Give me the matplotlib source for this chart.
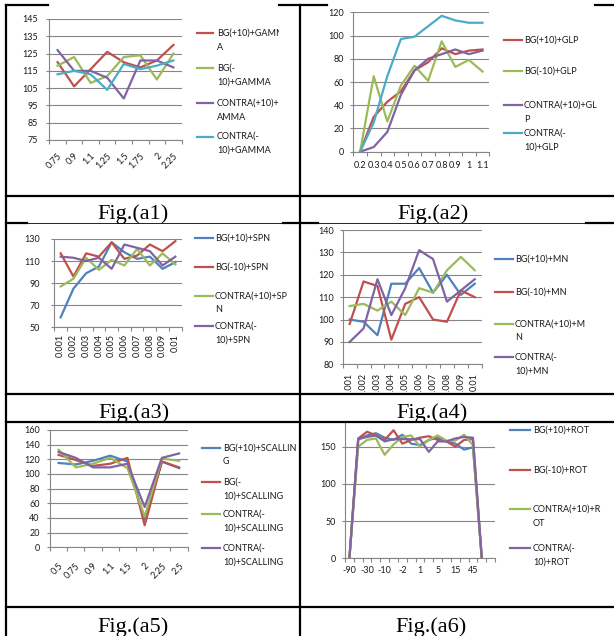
import numpy as np
import matplotlib
matplotlib.use("Agg")
import matplotlib.pyplot as plt
from matplotlib.patches import Rectangle
from matplotlib.transforms import Bbox, TransformedBbox

plt.rcParams['font.family'] = ['Lato', 'DejaVu Sans']

# 圖表配色 (Excel 預設)
BLUE, RED, GREEN, PURPLE, CYAN = '#4F81BD', '#C0504D', '#9BBB59', '#8064A2', '#4BACC6'
GRID = '#868686'
TXT = '#1a1a1a'

# ---- (a1) GAMMA ----
gamma_x = ['0.75', '0.9', '1.1', '1.25', '1.5', '1.75', '2', '2.25']
gamma_bg_p10 = [120, 106, 116, 126, 120, 117, 121, 130]
gamma_bg_m10 = [118, 123, 108, 112, 123, 124, 110, 125]
gamma_contra_p10 = [127, 115, 115, 111, 99, 121, 121, 117]
gamma_contra_m10 = [113, 115, 113, 104, 119, 116, 118, 121]
gamma_names = ['BG(+10)+GAMM\nA', 'BG(-\n10)+GAMMA', 'CONTRA(+10)+G\nAMMA', 'CONTRA(-\n10)+GAMMA']

# ---- (a2) GLP ----
glp_x = ['0.2', '0.3', '0.4', '0.5', '0.6', '0.7', '0.8', '0.9', '1', '1.1']
glp_bg_p10 = [0, 30, 43, 52, 70, 77, 89, 84, 87, 88]
glp_bg_m10 = [0, 65, 26, 57, 74, 61, 95, 73, 79, 69]
glp_contra_p10 = [0, 4, 17, 49, 70, 80, 84, 88, 84, 87]
glp_contra_m10 = [0, 25, 65, 97, 99, 108, 117, 113, 111, 111]
glp_names = ['BG(+10)+GLP', 'BG(-10)+GLP', 'CONTRA(+10)+GL\nP', 'CONTRA(-\n10)+GLP']

# ---- (a3) SPN ----
spn_x = ['0.001', '0.002', '0.003', '0.004', '0.005', '0.006', '0.007', '0.008', '0.009', '0.01']
spn_bg_p10 = [59, 85, 99, 105, 127, 118, 112, 114, 103, 109]
spn_bg_m10 = [117, 96, 117, 114, 127, 112, 115, 125, 119, 128]
spn_contra_p10 = [87, 94, 113, 102, 111, 106, 121, 106, 117, 107]
spn_contra_m10 = [114, 113, 110, 113, 103, 125, 122, 119, 106, 114]
spn_names = ['BG(+10)+SPN', 'BG(-10)+SPN', 'CONTRA(+10)+SP\nN', 'CONTRA(-\n10)+SPN']

# ---- (a4) MN ----
mn_x = ['0.001', '0.002', '0.003', '0.004', '0.005', '0.006', '0.007', '0.008', '0.009', '0.01']
mn_bg_p10 = [100, 99, 93, 116, 116, 123, 112, 120, 111, 116]
mn_bg_m10 = [98, 117, 115, 91, 107, 110, 100, 99, 113, 110]
mn_contra_p10 = [106, 107, 104, 108, 102, 114, 112, 122, 128, 122]
mn_contra_m10 = [90, 96, 118, 102, 114, 131, 127, 108, 113, 118]
mn_names = ['BG(+10)+MN', 'BG(-10)+MN', 'CONTRA(+10)+M\nN', 'CONTRA(-\n10)+MN']

# ---- (a5) SCALLING ----
sc_x = ['0.5', '0.75', '0.9', '1.1', '1.5', '2', '2.25', '2.5']
sc_bg_p10 = [115, 113, 118, 125, 117, 38, 117, 108]
sc_bg_m10 = [126, 119, 111, 114, 122, 30, 117, 109]
sc_contra_a = [133, 109, 114, 122, 108, 42, 121, 118]
sc_contra_b = [130, 122, 109, 109, 114, 55, 122, 128]
sc_names = ['BG(+10)+SCALLIN\nG', 'BG(-\n10)+SCALLING', 'CONTRA(-\n10)+SCALLING', 'CONTRA(-\n10)+SCALLING']

# ---- (a6) ROT ----
rot_x = ['-90', '-45', '-30', '-15', '-10', '-5', '-2', '-1', '1', '2', '5', '10',
         '15', '30', '45', '90', '']
rot_bg_p10 = [0, 160, 165, 168, 162, 159, 166, 154, 152, 159, 162, 157, 154, 146, 149, 0]
rot_bg_m10 = [0, 161, 170, 165, 159, 172, 154, 159, 162, 164, 159, 157, 150, 159, 160, 0]
rot_contra_p10 = [0, 150, 159, 161, 139, 153, 163, 165, 150, 159, 165, 158, 158, 166, 152, 0]
rot_contra_m10 = [0, 160, 163, 165, 157, 160, 160, 160, 160, 143, 157, 157, 161, 163, 162, 0]
rot_names = ['BG(+10)+ROT', 'BG(-10)+ROT', 'CONTRA(+10)+R\nOT', 'CONTRA(-\n10)+ROT']

W, H = 614, 636
fig = plt.figure(figsize=(W / 100, H / 100), dpi=100)


def box(x0, y0, x1, y1):
    return [x0 / W, 1 - y1 / H, (x1 - x0) / W, (y1 - y0) / H]


def chart(rect, cats, series, colors, ylim, ystep, ypad, xpad, rot=0, every=1):
    ax = fig.add_axes(box(*rect))
    n = len(cats)
    x = np.arange(n)
    for vals, c in zip(series, colors):
        ax.plot(x[:len(vals)], vals, color=c, lw=1.6, zorder=3)
    ax.set_xlim(-0.5, n - 0.5)
    ax.set_ylim(*ylim)
    ax.set_yticks(np.arange(ylim[0], ylim[1] + 1, ystep))
    ax.yaxis.grid(True, color=GRID, lw=0.8)
    ax.set_axisbelow(True)
    for s in ['top', 'right']:
        ax.spines[s].set_visible(False)
    for s in ['left', 'bottom']:
        ax.spines[s].set_color(GRID)
        ax.spines[s].set_linewidth(0.8)
    labels = [c if i % every == 0 else '' for i, c in enumerate(cats)]
    ax.set_xticks(x, labels)
    ax.set_xticks(np.arange(n + 1) - 0.5, minor=True)
    ax.tick_params(axis='x', which='major', length=0, pad=xpad, labelsize=6.5, labelcolor=TXT)
    ax.tick_params(axis='x', which='minor', length=3, width=0.8, color=GRID)
    ax.tick_params(axis='y', length=2.5, width=0.8, color=GRID, pad=ypad,
                   labelsize=6.5, labelcolor=TXT)
    if rot == 45:
        plt.setp(ax.get_xticklabels(), rotation=45, ha='right', va='top',
                 rotation_mode='anchor')
    elif rot == 90:
        plt.setp(ax.get_xticklabels(), rotation=90, ha='center', va='top')
    return ax


chart((49.3, 19, 181.7, 140), gamma_x,
      [gamma_bg_p10, gamma_bg_m10, gamma_contra_p10, gamma_contra_m10],
      [RED, GREEN, PURPLE, CYAN], (75, 145), 10, 5.4, 8, rot=45)
chart((353.3, 12.3, 489.3, 151.7), glp_x,
      [glp_bg_p10, glp_bg_m10, glp_contra_p10, glp_contra_m10],
      [RED, GREEN, PURPLE, CYAN], (0, 120), 20, 4, 7)
chart((54.3, 239, 181.7, 327.3), spn_x,
      [spn_bg_p10, spn_bg_m10, spn_contra_p10, spn_contra_m10],
      [BLUE, RED, GREEN, PURPLE], (50, 130), 20, 8, 5, rot=90)
chart((342.7, 230, 481.7, 364.3), mn_x,
      [mn_bg_p10, mn_bg_m10, mn_contra_p10, mn_contra_m10],
      [BLUE, RED, GREEN, PURPLE], (80, 140), 10, 3.7, 6, rot=90)
chart((50, 430, 187.7, 547.3), sc_x,
      [sc_bg_p10, sc_bg_m10, sc_contra_a, sc_contra_b],
      [BLUE, RED, GREEN, PURPLE], (0, 160), 20, 4.9, 10, rot=45)
chart((345, 409.4, 495, 558.3), rot_x,
      [rot_bg_p10, rot_bg_m10, rot_contra_p10, rot_contra_m10],
      [BLUE, RED, GREEN, PURPLE], (0, 200), 50, 4, 5.5, every=2)

# 外框表格、標題列與圖例
page = fig.add_axes([0, 0, 1, 1], zorder=10)
page.set_xlim(0, W)
page.set_ylim(H, 0)
page.axis('off')
page.patch.set_visible(False)

for y0, y1 in [(196, 223), (392, 422), (607, 636)]:
    page.add_patch(Rectangle((0, y0), W, y1 - y0, facecolor='white', edgecolor='none'))

LW = 1.6
page.plot([6, 6], [5, H], color='black', lw=LW)
page.plot([300, 300], [5, H], color='black', lw=LW)
for y in [196, 394, 422, 607]:
    page.plot([6, W], [y, y], color='black', lw=LW)
page.plot([6, W], [223, 223], color='black', lw=0.6)
for xa, xb in [(6, 27), (283, 318), (586, W)]:
    page.plot([xa, xb], [223, 223], color='black', lw=LW)
for xa, xb in [(6, 48), (279, 327), (595, W)]:
    page.plot([xa, xb], [5, 5], color='black', lw=LW)

captions = ['Fig.(a1)', 'Fig.(a2)', 'Fig.(a3)', 'Fig.(a4)', 'Fig.(a5)', 'Fig.(a6)']
cap_pos = [(133.5, 219), (433, 219), (134, 418), (432, 418), (133.5, 632), (431.5, 632)]
for t, (cx, cy) in zip(captions, cap_pos):
    page.text(cx, cy, t, family='Liberation Serif', fontsize=16, ha='center',
              va='baseline', color='black')


def legend(names, colors, hx0, hx1, tx, ys, clip_x1, clip_y0, clip_y1):
    clip = TransformedBbox(Bbox.from_extents(0, 1 - clip_y1 / H, clip_x1 / W, 1 - clip_y0 / H),
                           fig.transFigure)
    for name, c, y in zip(names, colors, ys):
        page.plot([hx0, hx1], [y, y], color=c, lw=1.6)
        for k, line in enumerate(name.split('\n')):
            t = page.text(tx, y + 14 * k, line, fontsize=6.5, color=TXT, va='center', ha='left')
            t.set_clip_box(clip)
            t.set_clip_on(True)


legend(gamma_names, [RED, GREEN, PURPLE, CYAN], 197, 213, 217, [33, 68, 103, 136.5], 279, 0, 196)
legend(glp_names, [RED, GREEN, PURPLE, CYAN], 504, 522, 524, [40, 71, 105, 133], W, 0, 196)
legend(spn_names, [BLUE, RED, GREEN, PURPLE], 195, 213, 215, [238, 267, 296, 326], 300, 223, 394)
legend(mn_names, [BLUE, RED, GREEN, PURPLE], 495, 513, 515, [259, 292, 324, 357], W, 223, 394)
legend(sc_names, [BLUE, RED, GREEN, PURPLE], 202, 220, 223, [448, 482, 514, 548], 300, 422, 607)
legend(rot_names, [BLUE, RED, GREEN, PURPLE], 510, 530, 533, [430, 470, 509, 548], W, 422, 607)

fig.savefig('out.png', dpi=100, facecolor='white')
